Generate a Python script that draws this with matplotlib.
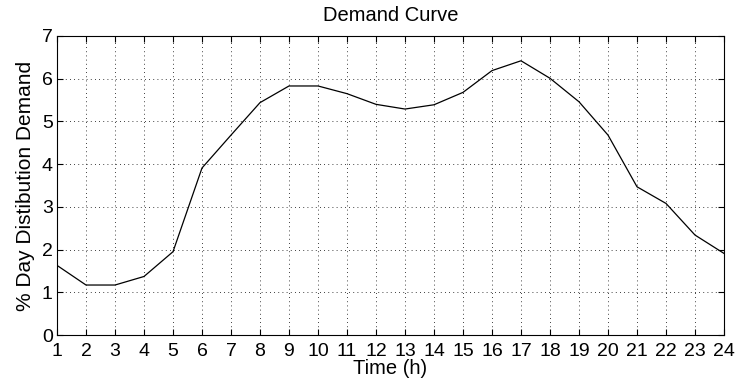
import matplotlib.pyplot as plt

hours = list(range(1, 25))
demand = [1.63, 1.17, 1.17, 1.37, 1.95, 3.91, 4.68, 5.44, 5.83, 5.83, 5.65, 5.40,
          5.29, 5.39, 5.68, 6.19, 6.42, 6.01, 5.46, 4.68, 3.47, 3.08, 2.34, 1.91]

plt.rcParams['font.family'] = ['Liberation Sans', 'DejaVu Sans']

fig = plt.figure(figsize=(7.37, 3.92), dpi=100)
ax = fig.add_axes([57 / 737, 1 - 335 / 392, (724 - 57) / 737, (335 - 36) / 392])

ax.plot(hours, demand, color='black', linewidth=0.9)

ax.set_xlim(1, 24)
ax.set_ylim(0, 7)
ax.set_xticks(hours)
ax.set_yticks(range(0, 8))
ax.grid(True, color='black', linestyle=(0, (1, 4)), linewidth=0.6)
ax.tick_params(direction='in', top=True, right=True, labelsize=14, length=4)
ax.tick_params(axis='x', pad=6)
ax.tick_params(axis='y', pad=3)
for s in ax.spines.values():
    s.set_linewidth(0.8)

ax.set_title('Demand Curve', fontsize=14.5, pad=11)
ax.set_xlabel('Time (h)', fontsize=14.5, labelpad=-1)
ax.set_ylabel('% Day Distibution Demand', fontsize=15, labelpad=5)

fig.savefig('out.png', dpi=100)
